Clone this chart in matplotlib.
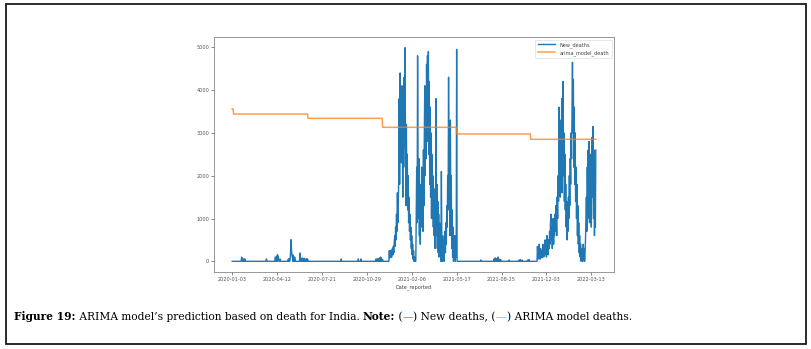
import numpy as np
import pandas as pd
import matplotlib
matplotlib.use("Agg")
import matplotlib.pyplot as plt
import matplotlib.dates as mdates
from matplotlib.patches import Rectangle

# daily new deaths, 811 days from 2020-01-03
start_date = "2020-01-03"
n_days = 811

blip_days = [21, 22, 24, 26, 28, 29, 76, 77, 96, 97, 99, 101, 102, 103, 107,
             125, 127, 129, 130, 131, 132, 133, 134, 136, 137, 139, 140,
             151, 152, 154, 156, 158, 160, 163, 166, 168, 243, 281, 287,
             320, 323, 326, 328, 331, 333, 335,
             554, 583, 586, 589, 592, 595, 598, 617, 639, 642, 646, 658, 661]
blip_vals = [100, 40, 55, 50, 55, 30, 55, 40, 100, 60, 120, 155, 80, 100, 55,
             50, 60, 50, 200, 505, 300, 150, 100, 150, 80, 100, 60,
             195, 80, 60, 80, 50, 70, 50, 60, 50, 55, 55, 55,
             50, 60, 50, 80, 100, 60, 40,
             30, 50, 80, 60, 100, 50, 40, 30, 30, 40, 30, 30, 40]

wave1_start = 350
wave1 = [250, 80, 200, 120, 260, 90, 180, 300, 150, 350, 200, 450,
         600, 350, 800, 500, 1100, 700, 1600, 900, 1300, 2000,
         3800, 1800, 4400, 2600, 3900, 2300, 4100, 3000, 1500, 3600, 2200, 4300, 2700,
         4990,
         2800, 1300, 3200, 1700, 2500, 1200, 2000, 900, 1500, 700, 1100, 500, 800,
         300, 600, 150, 400, 50, 250, 0, 100, 0, 0, 0,
         1200, 2200, 900,
         4800,
         2000, 1000, 2400, 600, 1800, 400, 1500, 800, 2200, 1100, 1600, 700, 2600, 1300, 3000,
         4100,
         2000, 3500, 2400, 4600, 2800, 4800, 3200, 4900, 2500, 4200, 1800, 3600,
         1500, 3000, 1000, 2500, 1300, 2000, 800, 1700, 600, 1400, 300, 1200,
         3800,
         600, 1800, 300, 1400, 200, 1100, 100, 900, 400, 700, 0,
         2100,
         400, 0, 600, 100, 500, 0, 300, 700, 200, 900, 400, 1300, 800, 2000, 1200,
         4300,
         1500, 2500, 600, 3300, 1200, 2000, 300, 1200, 100, 800, 0, 500, 200, 600, 0, 300, 100,
         4950]

wave2_start = 680
wave2 = [350, 50, 200, 100, 400, 150, 50, 300, 100, 250, 80, 150, 400, 200, 100,
         350, 150, 500, 200, 300, 100, 600, 250, 400, 150, 500, 300,
         700, 400, 900, 1100, 500, 800, 300, 700, 1000, 400, 900, 600, 1100, 700,
         1300, 900, 600, 1500, 1000, 2000, 1400,
         3600,
         1800, 3300, 1500, 3000, 2200, 3800, 1600, 3400, 4200, 2000, 3000, 1400, 2500, 1200,
         1800, 800, 1400, 500, 1100, 700, 1500, 1000, 2000, 1300, 2400, 1800, 3000, 2400, 3600,
         4650,
         3000, 4250, 2200, 3600, 1800, 3000, 1400, 2200, 1000, 1800, 600, 1300,
         400, 900, 200, 600, 100, 400, 0, 300, 50, 200, 0, 400, 100, 300, 0, 200, 500, 1000,
         1500, 700, 2200, 1000, 2600, 1400, 2800, 900, 2000, 1200, 2500, 800, 1800, 2900,
         1500, 3150, 1000, 2600, 600, 2000, 800, 2600]

# ARIMA step levels and the dates each level starts
arima_starts = ["2020-01-03", "2020-01-06", "2020-06-20", "2020-12-03", "2021-05-17", "2021-10-29"]
arima_levels = [3560, 3440, 3340, 3130, 2975, 2850]

tick_labels = ["2020-01-03", "2020-04-12", "2020-07-21", "2020-10-29", "2021-02-06",
               "2021-05-17", "2021-08-25", "2021-12-03", "2022-03-13"]
y_ticks = [0, 1000, 2000, 3000, 4000, 5000]

dates = pd.date_range(start_date, periods=n_days, freq="D")
new_deaths = np.zeros(n_days)
new_deaths[blip_days] = blip_vals
new_deaths[wave1_start:wave1_start + len(wave1)] = wave1
new_deaths[wave2_start:wave2_start + len(wave2)] = wave2

arima = pd.Series(np.nan, index=dates)
for d, v in zip(arima_starts, arima_levels):
    arima[pd.Timestamp(d):] = v

W, H = 811, 349
fig = plt.figure(figsize=(W / 100, H / 100), dpi=100)

# outer page frame
fig.patches.append(Rectangle((5.5 / W, 1 - 344 / H), 800 / W, 340 / H,
                             transform=fig.transFigure, fill=False,
                             edgecolor="#1a1a1a", linewidth=1.3))

ax = fig.add_axes([214 / W, 1 - 272 / H, 400 / W, 235 / H])
ax.plot(dates, new_deaths, color="#1f77b4", linewidth=1.0, label="New_deaths")
ax.plot(dates, arima.values, color="#ff7f0e", linewidth=1.1, alpha=0.75, label="arima_model_death")

ax.set_xticks(pd.to_datetime(tick_labels))
ax.xaxis.set_major_formatter(mdates.DateFormatter("%Y-%m-%d"))
ax.set_yticks(y_ticks)
ax.tick_params(labelsize=3.6, length=2, width=0.5, pad=1.5, colors="#555555")
ax.set_xlabel("Date_reported", fontsize=3.6, color="#444444", labelpad=1.5)
for s in ax.spines.values():
    s.set_linewidth(0.6)
    s.set_color("#888888")
leg = ax.legend(loc="upper right", fontsize=3.6, frameon=True, handlelength=3.5,
                borderpad=0.5, labelspacing=0.5)
leg.get_frame().set_linewidth(0.4)
for t in leg.get_texts():
    t.set_color("#444444")

# caption, built piece by piece
pieces = [("Figure 19:", "semibold", "black"),
          (" ARIMA model\u2019s prediction based on death for India. ", "normal", "black"),
          ("Note:", "semibold", "black"),
          (" (", "normal", "black"),
          ("\u2014", "normal", "#4a8fcc"),
          (") New deaths, (", "normal", "black"),
          ("\u2014", "normal", "#f0924a"),
          (") ARIMA model deaths.", "normal", "black")]
renderer = fig.canvas.get_renderer()
x = 14 / W
y = 1 - 320 / H
for txt, wt, col in pieces:
    t = fig.text(x, y, txt, fontsize=7.7, fontweight=wt, color=col,
                 family="DejaVu Serif", ha="left", va="baseline")
    bb = t.get_window_extent(renderer=renderer)
    x += bb.width / W

fig.savefig("out.png", dpi=100)
